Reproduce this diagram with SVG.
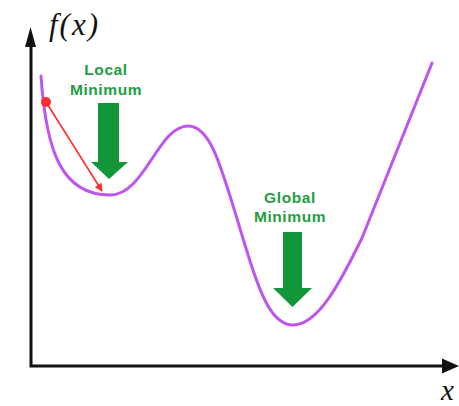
<svg xmlns="http://www.w3.org/2000/svg" width="459" height="406" viewBox="0 0 459 406">
<defs>
<style>
.lbl{font-family:"Liberation Sans",Arial,sans-serif;font-weight:bold;font-size:15.5px;fill:#1f9e3f;text-anchor:middle;letter-spacing:0.6px}
.math{font-family:"Liberation Serif","Times New Roman",serif;font-style:italic;fill:#111}
.axis{stroke:#111;stroke-width:3;fill:none}
.garrow{fill:#13963a}
</style>
<marker id="redhead" viewBox="0 0 10 10" refX="9" refY="5" markerWidth="9" markerHeight="8" markerUnits="userSpaceOnUse" orient="auto">
<path d="M0,0 L10,5 L0,10 z" fill="#ff2d2d"/>
</marker>
</defs>
<rect width="459" height="406" fill="#fff"/>
<g id="axes">
<path class="axis" d="M31,46 V366 H443"/>
<path d="M30.5,27 L36,47 L25,47 z" fill="#111"/>
<path d="M459,366 L442,358.5 L442,373.5 z" fill="#111"/>
<text class="math" x="49" y="35" font-size="31" letter-spacing="2">f(x)</text>
<text class="math" x="441" y="400" font-size="29">x</text>
</g>
<g id="curve">
<path d="M41,76 C46,150 61,195 110,195 C145,195 158,126 188,126 C212,126 222,170 245,245 C260,295 272,325 293,325 C318,325 340,283 362,238 L432,63" fill="none" stroke="#bf55f0" stroke-width="3" stroke-linecap="round"/>
</g>
<g id="connectors">
<line x1="46" y1="102" x2="102" y2="191" stroke="#ff2d2d" stroke-width="1.6" marker-end="url(#redhead)"/>
<circle cx="46" cy="102" r="5" fill="#ff2d2d"/>
</g>
<g id="local-minimum">
<text class="lbl" x="106" y="75">Local</text>
<text class="lbl" x="106" y="95">Minimum</text>
<path class="garrow" d="M98,103 H119 V162 H128 L109,179 L91,162 H98 z"/>
</g>
<g id="global-minimum">
<text class="lbl" x="290" y="203">Global</text>
<text class="lbl" x="290" y="222">Minimum</text>
<path class="garrow" d="M283,232 H302 V288 H312 L292.5,307 L273,288 H283 z"/>
</g>
</svg>
